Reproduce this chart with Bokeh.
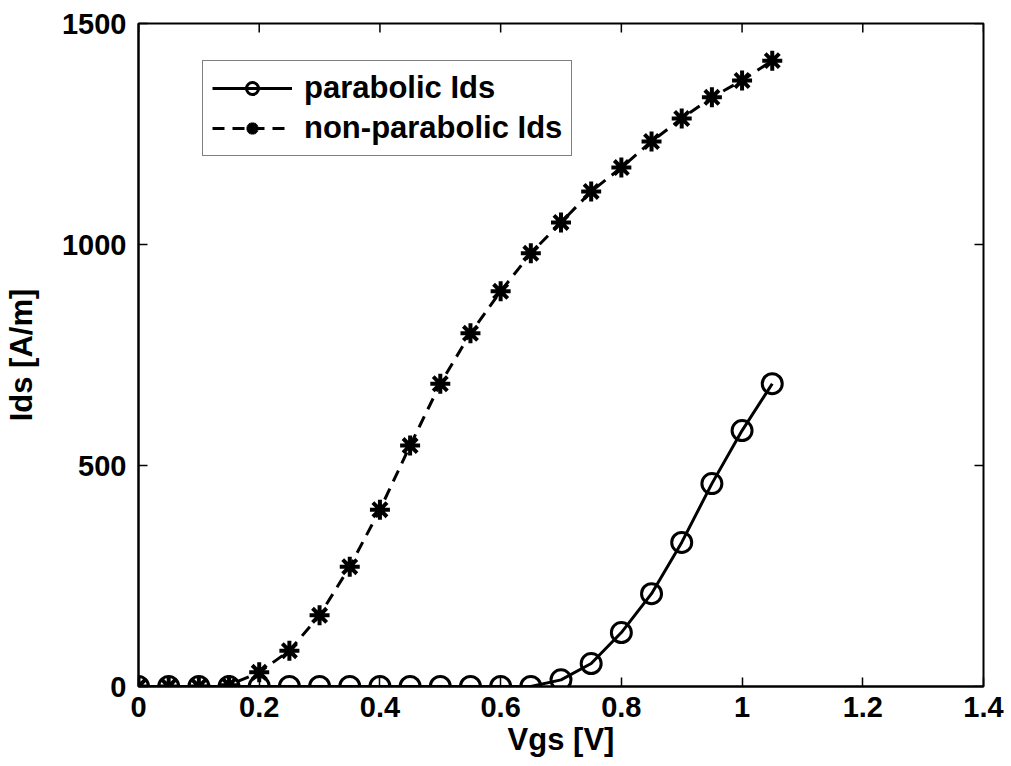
import math
from bokeh.plotting import figure
from bokeh.models import Range1d, FixedTicker, Legend, LegendItem
from bokeh.embed import file_html
from bokeh.resources import INLINE

vgs = [0.0, 0.05, 0.1, 0.15, 0.2, 0.25, 0.3, 0.35, 0.4, 0.45, 0.5, 0.55,
       0.6, 0.65, 0.7, 0.75, 0.8, 0.85, 0.9, 0.95, 1.0, 1.05]
parabolic_ids = [0, 0, 0, 0, 0, 0, 0, 0, 0, 0, 0, 0,
                 0, 0, 15, 52, 122, 210, 326, 459, 579, 685]
nonparabolic_ids = [0, 0, 0, 3, 32, 81, 161, 271, 400, 545, 685, 799,
                    894, 980, 1050, 1120, 1174, 1233, 1285, 1333, 1371, 1416]
x_ticks = [0, 0.2, 0.4, 0.6, 0.8, 1.0, 1.2, 1.4]
x_tick_labels = ["0", "0.2", "0.4", "0.6", "0.8", "1", "1.2", "1.4"]
y_ticks = [0, 500, 1000, 1500]
x_title = "Vgs [V]"
y_title = "Ids [A/m]"
series_names = ["parabolic Ids", "non-parabolic Ids"]

FONT = "Liberation Sans"
X_MIN, X_MAX = 0, 1.4
Y_MIN, Y_MAX = 0, 1500

p = figure(width=1011, height=766, output_backend="svg", toolbar_location=None,
           x_range=Range1d(X_MIN, X_MAX), y_range=Range1d(Y_MIN, Y_MAX),
           min_border_left=138, min_border_right=28, min_border_top=23,
           min_border_bottom=80)
p.xgrid.visible = False
p.ygrid.visible = False
p.outline_line_color = "black"
p.outline_line_width = 2
p.background_fill_color = "white"
p.border_fill_color = "white"

overrides = {t: l for t, l in zip(x_ticks, x_tick_labels)}

for ax in [p.xaxis[0], p.yaxis[0]]:
    ax.major_tick_in = 9
    ax.major_tick_out = 0
    ax.minor_tick_in = 0
    ax.minor_tick_out = 0
    ax.axis_line_width = 2
    ax.major_tick_line_width = 1.5
    ax.major_label_text_font = FONT
    ax.major_label_text_font_style = "bold"
    ax.major_label_text_color = "black"
    ax.major_label_text_font_size = "29px"
    ax.axis_label_text_font = FONT
    ax.axis_label_text_font_style = "bold"
    ax.axis_label_text_color = "black"
    ax.axis_label_text_font_size = "31px"

p.xaxis[0].ticker = FixedTicker(ticks=x_ticks)
p.xaxis[0].major_label_overrides = overrides
p.xaxis[0].major_label_standoff = 10
p.xaxis[0].axis_label = x_title
p.xaxis[0].axis_label_standoff = 2

p.yaxis[0].ticker = FixedTicker(ticks=y_ticks)
p.yaxis[0].major_label_standoff = 12
p.yaxis[0].axis_label = y_title
p.yaxis[0].axis_label_standoff = 20

# inward ticks on the top and right edges of the box (clipped to the frame)
p.scatter(x_ticks, [Y_MAX] * len(x_ticks), marker="dash", size=18,
          angle=math.pi / 2, line_color="black", line_width=1.5)
p.scatter([X_MAX] * len(y_ticks), y_ticks, marker="dash", size=18,
          line_color="black", line_width=1.5)

l1 = p.line(vgs, parabolic_ids, line_color="black", line_width=3)
s1 = p.scatter(vgs, parabolic_ids, marker="circle", size=20, fill_color=None,
               line_color="black", line_width=3)
l2 = p.line(vgs, nonparabolic_ids, line_color="black", line_width=3,
            line_dash="12 8")
s2 = p.scatter(vgs, nonparabolic_ids, marker="asterisk", size=20,
               line_color="black", line_width=4)

legend = Legend(items=[LegendItem(label=series_names[0], renderers=[l1, s1]),
                       LegendItem(label=series_names[1], renderers=[l2, s2])],
                location=(64, 530))
legend.label_text_font = FONT
legend.label_text_font_style = "bold"
legend.label_text_font_size = "31px"
legend.label_text_color = "black"
legend.glyph_width = 80
legend.glyph_height = 30
legend.label_height = 30
legend.label_standoff = 12
legend.spacing = 4
legend.padding = 9
legend.border_line_color = "black"
legend.border_line_width = 1.5
legend.background_fill_alpha = 1
p.add_layout(legend, "center")

open("out.html", "w").write(file_html(p, INLINE))
